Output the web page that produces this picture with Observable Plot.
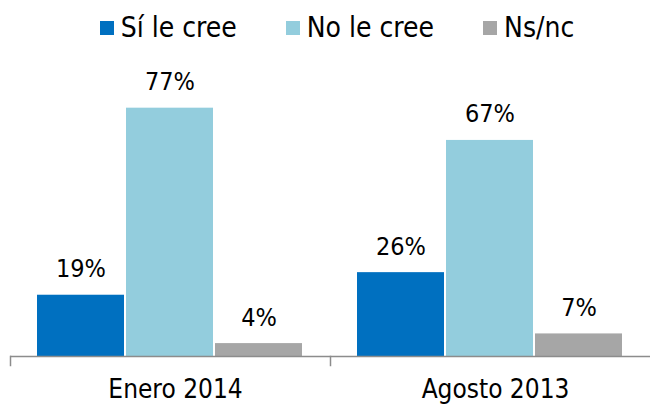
<!DOCTYPE html>
<html>
<head>
<meta charset="utf-8">
<script src="https://cdn.jsdelivr.net/npm/d3@7"></script>
<script src="https://cdn.jsdelivr.net/npm/@observablehq/plot@0.6"></script>
<style>
  html, body { margin: 0; padding: 0; background: #fff; }
  body { width: 650px; height: 404px; overflow: hidden; font-family: "DejaVu Sans Condensed", "DejaVu Sans", sans-serif; }
  #legend { height: 55px; display: flex; justify-content: center; align-items: center; gap: 49px; font-size: 28px; line-height: 28px; color: #000; padding-left: 24px; padding-bottom: 0px; box-sizing: border-box; }
  #legend .item { display: flex; align-items: center; }
  #legend .sw { width: 14px; height: 14px; margin-right: 7px; }
</style>
</head>
<body>
<div id="legend"></div>
<div id="chart"></div>
<script>
const periods = ["Enero 2014", "Agosto 2013"];
const series = ["Sí le cree", "No le cree", "Ns/nc"];
const colors = ["#0070C0", "#93CDDD", "#A6A6A6"];
const valuesEnero = [19, 77, 4];
const valuesAgosto = [26, 67, 7];

const data = [];
[valuesEnero, valuesAgosto].forEach((vals, pi) => {
  vals.forEach((v, si) => data.push({period: periods[pi], series: series[si], value: v}));
});

const legend = document.getElementById("legend");
series.forEach((s, i) => {
  const it = document.createElement("div");
  it.className = "item";
  it.innerHTML = `<span class="sw" style="background:${colors[i]}"></span><span>${s}</span>`;
  legend.appendChild(it);
});

const chart = Plot.plot({
  width: 650,
  height: 349,
  marginLeft: 10,
  marginRight: 0,
  marginTop: 43,
  marginBottom: 48,
  style: {fontFamily: '"DejaVu Sans Condensed", "DejaVu Sans", sans-serif', color: "#000", background: "#fff", overflow: "visible"},
  fx: {domain: periods, padding: 0, label: null},
  x: {domain: series, paddingInner: 0.022, paddingOuter: 0.289, axis: null},
  y: {domain: [0, 80], axis: null},
  color: {domain: series, range: colors},
  marks: [
    Plot.barY(data, {fx: "period", x: "series", y: "value", fill: "series"}),
    Plot.ruleY([0], {stroke: "#8c8c8c", strokeWidth: 1.5}),
    Plot.frame({anchor: "left", stroke: "#8c8c8c", strokeWidth: 1.5, insetTop: 258, insetBottom: -9}),
    Plot.text(data, {fx: "period", x: "series", y: "value", text: d => `${d.value}%`, dy: -26, fontSize: 25, fill: "#000"}),
    Plot.axisFx({anchor: "bottom", tickSize: 0, tickPadding: 23, dx: 5, fontSize: 26, label: null, fill: "#000"})
  ]
});
document.getElementById("chart").appendChild(chart);
</script>
</body>
</html>
